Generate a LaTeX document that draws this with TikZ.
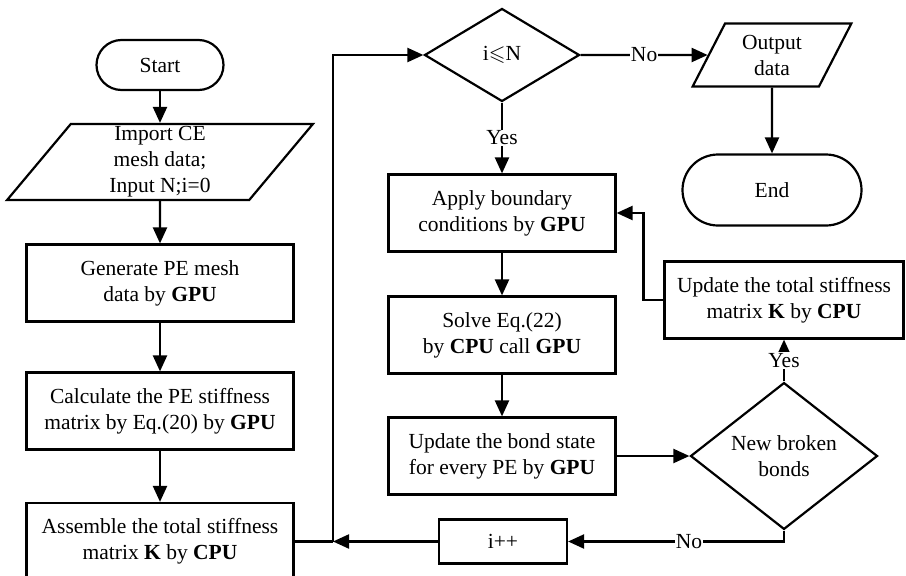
\documentclass[tikz,border=0pt]{standalone}
\usepackage{amssymb}
\usepackage{fontspec}
\setmainfont{Liberation Serif}
\usetikzlibrary{positioning, shapes.geometric, arrows.meta}

\begin{document}
\begin{tikzpicture}[x=1pt, y=-1pt, line width=2.2pt,
    font=\fontsize{21.5}{26}\selectfont,
    box/.style={draw, rectangle, align=center, inner sep=0pt, minimum width=267pt, minimum height=77pt},
    term/.style={draw, rectangle, inner sep=0pt},
    io/.style={draw, trapezium, trapezium left angle=63, trapezium right angle=117,
        trapezium stretches=true, align=center, inner sep=0pt},
    test/.style={draw, diamond, align=center, inner sep=0pt},
    arr/.style={-{Triangle[length=16pt, width=14pt]}},
    lbl/.style={fill=white, inner sep=1pt}]

    \useasboundingbox (0,0) rectangle (906,576);

    % Left column
    \node[term, rounded corners=25pt, minimum width=127pt, minimum height=50pt] (start) at (160,65) {Start};
    \node[io, minimum width=306pt, minimum height=76pt] (imp) at (160,162)
        {Import CE\\mesh data;\\Input N;i=0};
    \node[box] (gen) at (160,283) {Generate PE mesh\\data by \textbf{GPU}};
    \node[box] (calc) at (160,411) {Calculate the PE stiffness\\matrix by Eq.(20) by \textbf{GPU}};
    \node[box] (asm) at (160,541.5) {Assemble the total stiffness\\matrix \textbf{K} by \textbf{CPU}};

    % Middle column
    \node[test, minimum width=155pt, minimum height=93pt] (cond) at (502,55) {i$\leqslant$N};
    \node[box, minimum width=227pt] (apply) at (502,213) {Apply boundary\\conditions by \textbf{GPU}};
    \node[box, minimum width=227pt] (solve) at (502,335) {Solve Eq.(22)\\by \textbf{CPU} call \textbf{GPU}};
    \node[box, minimum width=227pt] (bond) at (502,456) {Update the bond state\\for every PE by \textbf{GPU}};
    \node[box, minimum width=128pt, minimum height=44pt] (inc) at (503,541.5) {i++};

    % Right column
    \node[io, minimum width=159pt, minimum height=63pt] (out) at (772,55) {Output\\data};
    \node[term, rounded corners=35.5pt, minimum width=179pt, minimum height=71pt] (endn) at (772,190) {End};
    \node[box, minimum width=239pt] (updK) at (784,300) {Update the total stiffness\\matrix \textbf{K} by \textbf{CPU}};
    \node[test, minimum width=187pt, minimum height=111pt] (brk) at (784,456) {New broken\\bonds};

    % Main flow
    \draw[arr] (start) -- (imp);
    \draw[arr] (imp) -- (gen);
    \draw[arr] (gen) -- (calc);
    \draw[arr] (calc) -- (asm);

    % Loop back to the test
    \coordinate (lp) at (333,541.5);
    \draw (asm) -- (lp);
    \draw[arr] (inc) -- (lp);
    \draw[arr] (lp) |- (cond);

    \draw[arr] (cond) -- node[lbl] {Yes} (apply);
    \draw[arr] (cond) -- node[lbl] {No} (out);
    \draw[arr] (out) -- (endn);

    \draw[arr] (apply) -- (solve);
    \draw[arr] (solve) -- (bond);
    \draw[arr] (bond) -- (brk);

    % Broken bonds branch
    \draw[arr] (brk) -- node[lbl] {Yes} (updK);
    \draw[arr] (updK.west) -- ++(-20,0) |- (apply.east);
    \draw[arr] (brk.south) |- node[lbl, pos=0.72] {No} (inc.east);

\end{tikzpicture}
\end{document}
